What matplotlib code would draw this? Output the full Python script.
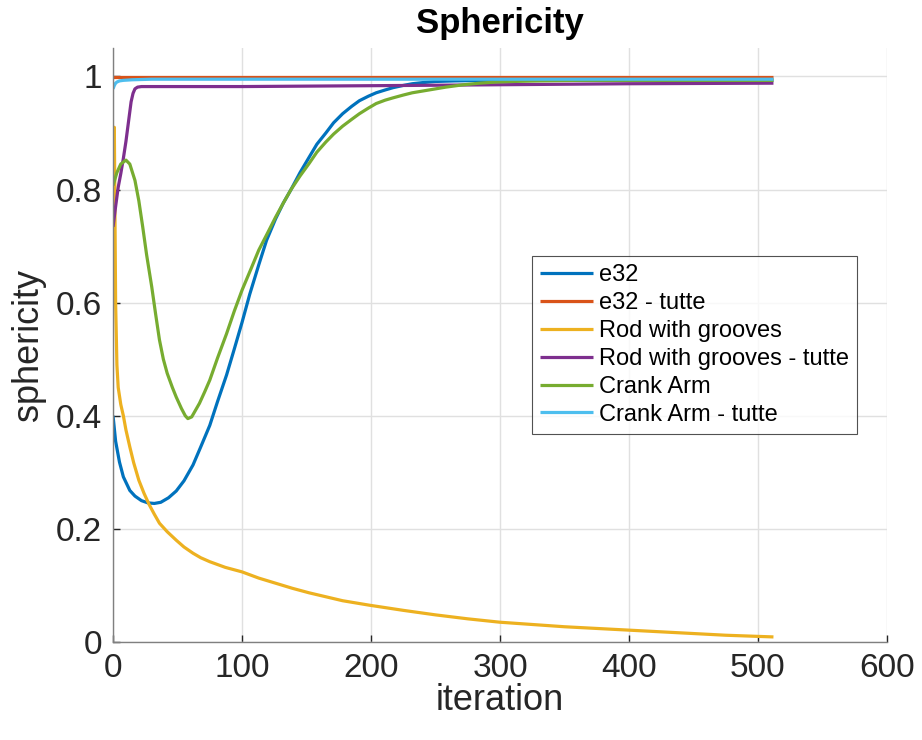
import numpy as np
import matplotlib
matplotlib.use("Agg")
import matplotlib.pyplot as plt

# valores (iteracao, esfericidade)
e32_it = [0, 2, 5, 8, 13, 17, 22, 27, 32, 37, 43, 49, 55, 62, 68, 75, 81, 88, 94, 100, 106, 113, 119, 126, 132, 138,
          145, 152, 158, 165, 171, 178, 185, 191, 198, 204, 211, 217, 225, 232, 240, 250, 265, 290, 512]
e32_val = [0.40, 0.355, 0.318, 0.292, 0.268, 0.258, 0.25, 0.246, 0.245, 0.247, 0.255, 0.267, 0.285, 0.313, 0.345, 0.383,
           0.425, 0.472, 0.518, 0.565, 0.615, 0.667, 0.71, 0.748, 0.776, 0.80, 0.83, 0.857, 0.88, 0.90, 0.918, 0.934,
           0.947, 0.957, 0.965, 0.971, 0.976, 0.980, 0.984, 0.987, 0.989, 0.991, 0.992, 0.993, 0.993]

e32_tutte_it = [0, 512]
e32_tutte_val = [0.9995, 0.9995]

rod_it = [0, 1, 2, 3, 4, 6, 8, 10, 13, 16, 20, 24, 28, 32, 36, 42, 49, 55, 62, 68, 75, 87, 100, 113, 126, 139, 152,
          165, 178, 199, 225, 250, 275, 300, 325, 350, 375, 400, 425, 450, 475, 512]
rod_val = [0.74, 0.91, 0.60, 0.49, 0.45, 0.42, 0.40, 0.375, 0.345, 0.317, 0.286, 0.263, 0.243, 0.226, 0.21, 0.195,
           0.18, 0.168, 0.157, 0.149, 0.142, 0.132, 0.124, 0.113, 0.104, 0.095, 0.087, 0.08, 0.073, 0.065, 0.056,
           0.048, 0.041, 0.035, 0.031, 0.027, 0.024, 0.021, 0.018, 0.015, 0.012, 0.009]

rod_tutte_it = [0, 2, 4, 6, 8, 10, 12, 14, 15.5, 17, 19, 22, 100, 230, 400, 512]
rod_tutte_val = [0.734, 0.77, 0.804, 0.828, 0.855, 0.885, 0.92, 0.955, 0.97, 0.978, 0.981, 0.982, 0.982, 0.984, 0.987, 0.988]

crank_it = [0, 3, 6, 10, 13, 17, 20, 23, 26, 30, 33, 36, 39, 42, 46, 49, 53, 56, 58, 61, 64, 67, 71, 75, 81, 88, 94,
            100, 107, 113, 120, 126, 132, 138, 145, 152, 158, 165, 171, 178, 185, 191, 198, 204, 211, 217, 225, 232,
            245, 258, 271, 284, 297, 310, 330, 360, 512]
crank_val = [0.807, 0.83, 0.845, 0.852, 0.845, 0.816, 0.78, 0.734, 0.685, 0.628, 0.58, 0.534, 0.50, 0.475, 0.45, 0.433,
             0.413, 0.40, 0.395, 0.398, 0.41, 0.422, 0.442, 0.463, 0.502, 0.545, 0.585, 0.622, 0.66, 0.693, 0.724,
             0.751, 0.776, 0.80, 0.824, 0.846, 0.866, 0.884, 0.898, 0.912, 0.924, 0.934, 0.944, 0.952, 0.958, 0.962,
             0.967, 0.971, 0.976, 0.981, 0.985, 0.988, 0.99, 0.991, 0.992, 0.993, 0.993]

crank_tutte_it = [0, 1, 2, 3, 5, 8, 15, 30, 512]
crank_tutte_val = [0.978, 0.984, 0.988, 0.99, 0.992, 0.993, 0.994, 0.995, 0.995]

nomes = ["e32", "e32 - tutte", "Rod with grooves", "Rod with grooves - tutte", "Crank Arm", "Crank Arm - tutte"]
cores = ["#0072BD", "#D95319", "#EDB120", "#7E2F8E", "#77AC30", "#4DBEEE"]

plt.rcParams['font.family'] = ['Liberation Sans', 'DejaVu Sans']

fig = plt.figure(figsize=(9.22, 7.4), dpi=100)
ax = fig.add_axes([0.1226, 0.1324, 0.8394, 0.8026])

series = [(e32_it, e32_val), (e32_tutte_it, e32_tutte_val), (rod_it, rod_val),
          (rod_tutte_it, rod_tutte_val), (crank_it, crank_val), (crank_tutte_it, crank_tutte_val)]
for (x, y), nome, cor in zip(series, nomes, cores):
    ax.plot(x, y, color=cor, lw=2.3, label=nome, solid_joinstyle='round', solid_capstyle='butt')

ax.set_xlim(0, 600)
ax.set_ylim(0, 1.05)
ax.set_xticks([0, 100, 200, 300, 400, 500, 600])
ax.set_yticks([0, 0.2, 0.4, 0.6, 0.8, 1])
ax.set_yticklabels(["0", "0.2", "0.4", "0.6", "0.8", "1"])
ax.grid(True, color='#e0e0e0', lw=1.0)
ax.set_axisbelow(True)
for s in ['top', 'right']:
    ax.spines[s].set_visible(False)
for s in ['left', 'bottom']:
    ax.spines[s].set_color('#808080')
    ax.spines[s].set_linewidth(1.0)
ax.tick_params(direction='in', length=5, width=1, color='#262626', labelsize=24, labelcolor='#262626', pad=8)

ax.set_xlabel("iteration", fontsize=26, color='#262626', labelpad=-1)
ax.set_ylabel("sphericity", fontsize=26, color='#262626', labelpad=7)
ax.set_title("Sphericity", fontsize=25, fontweight='bold', pad=11)

leg = ax.legend(loc='upper left', bbox_to_anchor=(0.541, 0.65), borderaxespad=0, fontsize=17,
                frameon=True, fancybox=False, edgecolor='#262626', handlelength=2.25,
                handletextpad=0.25, labelspacing=0.25, borderpad=0.35)
leg.get_frame().set_linewidth(0.8)

fig.savefig("out.png", dpi=100, facecolor='white')
